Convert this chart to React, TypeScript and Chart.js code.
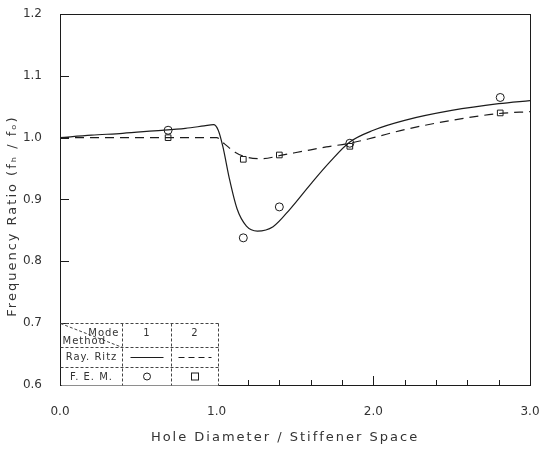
import React, { useEffect, useRef } from "react";
import { Chart, registerables } from "chart.js";

Chart.register(...registerables);

// Rayleigh-Ritz, mode 1 (solid line)
const ritzMode1X = [0, 0.2, 0.4, 0.6, 0.8, 0.92, 0.98, 1.01, 1.04, 1.08, 1.13, 1.19, 1.26, 1.36, 1.47, 1.6, 1.72, 1.85, 2.0, 2.2, 2.5, 2.8, 3.0];
const ritzMode1Y = [1.0, 1.004, 1.007, 1.011, 1.015, 1.019, 1.021, 1.012, 0.985, 0.935, 0.885, 0.857, 0.849, 0.856, 0.885, 0.925, 0.96, 0.993, 1.012, 1.028, 1.044, 1.055, 1.06];
// Rayleigh-Ritz, mode 2 (dashed line)
const ritzMode2X = [0, 0.5, 1.0, 1.05, 1.12, 1.2, 1.3, 1.4, 1.55, 1.7, 1.85, 2.0, 2.2, 2.5, 2.8, 3.0];
const ritzMode2Y = [1.0, 1.0, 1.0, 0.99, 0.976, 0.968, 0.966, 0.971, 0.978, 0.985, 0.991, 1.0, 1.013, 1.028, 1.039, 1.042];
// F.E.M., mode 1 (circles)
const femMode1X = [0.69, 1.17, 1.4, 1.85, 2.81];
const femMode1Y = [1.012, 0.838, 0.888, 0.991, 1.065];
// F.E.M., mode 2 (squares)
const femMode2X = [0.69, 1.17, 1.4, 1.85, 2.81];
const femMode2Y = [1.0, 0.965, 0.972, 0.986, 1.04];

const yTickValues = [0.6, 0.7, 0.8, 0.9, 1.0, 1.1, 1.2];
const xMinorTicks = [0.2, 0.4, 0.6, 0.8, 1.2, 1.4, 1.6, 1.8, 2.2, 2.4, 2.6, 2.8];
const xMajorTicks = [1, 2];

const xTitle = "Hole Diameter / Stiffener Space";
const yTitle = "Frequency Ratio (f\u2095 / f\u2092)";
const legendHeaderMode = "Mode";
const legendHeaderMethod = "Method";
const legendModes = ["1", "2"];
const legendMethods = ["Ray. Ritz", "F. E. M."];

const INK = "#1c1c1c";
const TEXT = "#333";

const toPoints = (xs: number[], ys: number[]) => xs.map((x, i) => ({ x, y: ys[i] }));

const extras = {
  id: "extras",
  beforeDraw(chart: any) {
    const ctx = chart.ctx;
    ctx.save();
    ctx.fillStyle = "#fff";
    ctx.fillRect(0, 0, chart.width, chart.height);
    ctx.restore();
  },
  afterDraw(chart: any) {
    const ctx = chart.ctx as CanvasRenderingContext2D;
    const { left, right, top, bottom } = chart.chartArea;
    const xs = chart.scales.x;
    const ys = chart.scales.y;
    ctx.save();
    ctx.strokeStyle = INK;
    ctx.lineWidth = 1;
    ctx.setLineDash([]);
    ctx.strokeRect(Math.round(left) + 0.5, Math.round(top) + 0.5, Math.round(right - left), Math.round(bottom - top));
    // inward ticks on the y axis
    const lx = Math.round(left);
    yTickValues.forEach((v) => {
      const py = Math.round(ys.getPixelForValue(v)) + 0.5;
      ctx.beginPath();
      ctx.moveTo(lx, py);
      ctx.lineTo(lx + 9, py);
      ctx.stroke();
    });
    // inward ticks on the x axis
    ctx.beginPath();
    xMinorTicks.forEach((v) => {
      const px = Math.round(xs.getPixelForValue(v)) + 0.5;
      ctx.moveTo(px, bottom);
      ctx.lineTo(px, bottom - 5);
    });
    xMajorTicks.forEach((v) => {
      const px = Math.round(xs.getPixelForValue(v)) + 0.5;
      ctx.moveTo(px, bottom);
      ctx.lineTo(px, bottom - 9);
    });
    ctx.stroke();

    // legend table
    const L = Math.round(left) + 0.5;
    const B = Math.round(bottom) + 0.5;
    const c1 = L + 62, c2 = L + 111, c3 = L + 158;
    const r0 = B - 62, r1 = B - 38, r2 = B - 18;
    ctx.fillStyle = "#fff";
    ctx.fillRect(L + 1, r0 + 1, c3 - L - 1, B - r0 - 1);
    ctx.strokeStyle = "#444";
    ctx.setLineDash([3, 2]);
    ctx.beginPath();
    ctx.moveTo(L, r0); ctx.lineTo(c3, r0);
    ctx.moveTo(c1, r0); ctx.lineTo(c1, B);
    ctx.moveTo(c2, r0); ctx.lineTo(c2, B);
    ctx.moveTo(c3, r0); ctx.lineTo(c3, B);
    ctx.moveTo(L, r2); ctx.lineTo(c3, r2);
    ctx.moveTo(L, r1); ctx.lineTo(c3, r1);
    ctx.moveTo(L, r0); ctx.lineTo(c1, r1);
    ctx.stroke();
    ctx.setLineDash([]);
    (ctx as any).letterSpacing = "1px";
    ctx.fillStyle = TEXT;
    ctx.font = "10px 'DejaVu Sans'";
    ctx.textBaseline = "middle";
    ctx.textAlign = "right";
    ctx.fillText(legendHeaderMode, c1 - 3, r0 + 10);
    ctx.textAlign = "left";
    ctx.fillText(legendHeaderMethod, L + 2, r1 - 6);
    ctx.textAlign = "center";
    ctx.fillText(legendModes[0], (c1 + c2) / 2, r0 + 10);
    ctx.fillText(legendModes[1], (c2 + c3) / 2, r0 + 10);
    ctx.fillText(legendMethods[0], (L + c1) / 2, (r1 + r2) / 2);
    ctx.fillText(legendMethods[1], (L + c1) / 2, (r2 + B) / 2 + 1);
    // line samples
    const sy = (r1 + r2) / 2;
    ctx.strokeStyle = INK;
    ctx.beginPath();
    ctx.moveTo(c1 + 8, sy); ctx.lineTo(c2 - 8, sy);
    ctx.stroke();
    ctx.setLineDash([6, 4]);
    ctx.beginPath();
    ctx.moveTo(c2 + 7, sy); ctx.lineTo(c3 - 7, sy);
    ctx.stroke();
    ctx.setLineDash([]);
    // marker samples
    const my = (r2 + B) / 2;
    ctx.beginPath();
    ctx.arc((c1 + c2) / 2, my, 3.5, 0, Math.PI * 2);
    ctx.stroke();
    ctx.strokeRect((c2 + c3) / 2 - 3.5, my - 3.5, 7, 7);

    // axis titles
    ctx.fillStyle = TEXT;
    ctx.font = "13px 'DejaVu Sans'";
    (ctx as any).letterSpacing = "2px";
    ctx.textAlign = "center";
    ctx.textBaseline = "middle";
    ctx.fillText(xTitle, 285, 438);
    ctx.translate(13, 216);
    ctx.rotate(-Math.PI / 2);
    ctx.fillText(yTitle, 0, 0);
    ctx.restore();
  },
};

export default function App() {
  const ref = useRef<HTMLCanvasElement | null>(null);
  useEffect(() => {
    if (!ref.current) return;
    const tickFont = { family: "'DejaVu Sans'", size: 12 };
    const chart = new Chart(ref.current, {
      type: "scatter",
      data: {
        datasets: [
          {
            label: "Ray. Ritz mode 1",
            data: toPoints(ritzMode1X, ritzMode1Y),
            showLine: true,
            borderColor: INK,
            borderWidth: 1.2,
            pointRadius: 0,
            cubicInterpolationMode: "monotone",
          },
          {
            label: "Ray. Ritz mode 2",
            data: toPoints(ritzMode2X, ritzMode2Y),
            showLine: true,
            borderColor: INK,
            borderWidth: 1.2,
            borderDash: [9, 6],
            pointRadius: 0,
            cubicInterpolationMode: "monotone",
          },
          {
            label: "F.E.M. mode 1",
            data: toPoints(femMode1X, femMode1Y),
            showLine: false,
            pointStyle: "circle",
            pointRadius: 4,
            borderColor: INK,
            borderWidth: 1,
            backgroundColor: "rgba(0,0,0,0)",
          },
          {
            label: "F.E.M. mode 2",
            data: toPoints(femMode2X, femMode2Y),
            showLine: false,
            pointStyle: "rect",
            pointRadius: 4,
            borderColor: INK,
            borderWidth: 1,
            backgroundColor: "#fff",
          },
        ],
      },
      options: {
        responsive: false,
        animation: false,
        layout: { padding: { left: 0, top: 14, right: 11, bottom: 0 } },
        plugins: { legend: { display: false }, tooltip: { enabled: false } },
        scales: {
          x: {
            type: "linear",
            min: 0,
            max: 3,
            afterFit: (s: any) => { s.height = 66; s.paddingLeft = 0; s.paddingRight = 0; },
            grid: { display: false },
            border: { display: false },
            ticks: {
              stepSize: 1,
              padding: 12,
              maxRotation: 0,
              color: TEXT,
              font: tickFont,
              callback: (v: any) => Number(v).toFixed(1),
            },
          },
          y: {
            type: "linear",
            min: 0.6,
            max: 1.2,
            afterFit: (s: any) => { s.width = 60; s.paddingTop = 0; s.paddingBottom = 0; },
            grid: { display: false },
            border: { display: false },
            ticks: {
              stepSize: 0.1,
              padding: 10,
              color: TEXT,
              font: tickFont,
              callback: (v: any) => Number(v).toFixed(1),
            },
          },
        },
      },
      plugins: [extras],
    } as any);
    return () => chart.destroy();
  }, []);
  return (
    <div style={{ position: "absolute", left: 0, top: 0, width: 541, height: 451, background: "#fff" }}>
      <canvas ref={ref} width={541} height={451} style={{ display: "block" }} />
    </div>
  );
}
